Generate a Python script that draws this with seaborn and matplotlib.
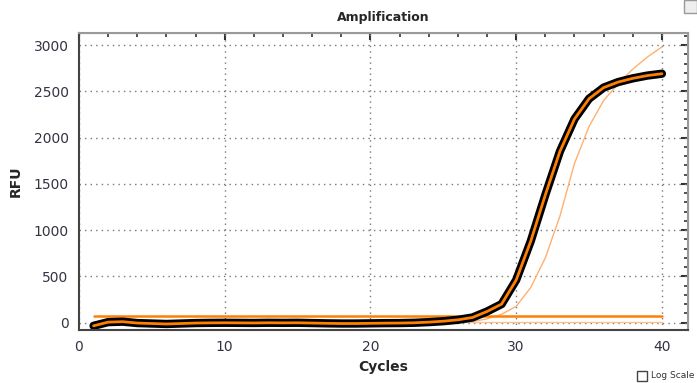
import numpy as np
import pandas as pd
import matplotlib.pyplot as plt
import seaborn as sns
from matplotlib.patches import Rectangle
from matplotlib.ticker import MultipleLocator

sns.set_style("white")

# Data
cycles = list(range(1, 41))
sample_a = [-35, 5, 10, -5, -10, -15, -10, -5, -3, -2,
            -3, -4, -2, -3, -2, -5, -8, -10, -10, -8,
            -6, -5, -2, 5, 15, 30, 55, 120, 200, 460,
            880, 1380, 1850, 2200, 2420, 2540, 2600, 2640, 2670, 2690]
sample_b = [0, 0, 0, 0, 0, 0, 0, 0, 0, 0,
            0, 0, 0, 0, 0, 0, 0, 0, 0, 0,
            0, 0, 0, 1, 2, 5, 12, 40, 90, 175,
            380, 700, 1150, 1720, 2120, 2400, 2580, 2740, 2870, 2980]
negative = [5] * 40
threshold = [75] * 40

df = pd.DataFrame({'cycle': cycles, 'a': sample_a, 'b': sample_b,
                   'neg': negative, 'thr': threshold})

fig = plt.figure(figsize=(6.97, 3.83), dpi=100)
ax = fig.add_axes([0.1133, 0.1384, 0.874, 0.7754])

sns.lineplot(data=df, x='cycle', y='neg', color='#ffc08a', linewidth=1, ax=ax)
sns.lineplot(data=df, x='cycle', y='b', color='#ffb070', linewidth=1, ax=ax)
sns.lineplot(data=df, x='cycle', y='thr', color='#ff8000', linewidth=1.8, ax=ax)
sns.lineplot(data=df, x='cycle', y='a', color='black', linewidth=6,
             solid_joinstyle='round', ax=ax)
sns.lineplot(data=df, x='cycle', y='a', color='#ff8000', linewidth=2,
             solid_joinstyle='round', ax=ax)

ax.set_xlim(0, 41.8)
ax.set_ylim(-80, 3130)
ax.xaxis.set_major_locator(MultipleLocator(10))
ax.xaxis.set_minor_locator(MultipleLocator(2))
ax.yaxis.set_major_locator(MultipleLocator(500))
ax.yaxis.set_minor_locator(MultipleLocator(100))

ax.grid(True, which='major', linestyle=(0, (1, 3)), color='#777777', linewidth=1)
ax.tick_params(which='major', direction='inout', length=8, width=1.5, color='#333333',
               labelsize=10, labelcolor='#333344')
ax.tick_params(which='minor', direction='inout', length=5, width=1.2, color='#333333')
for s in ax.spines.values():
    s.set_color('#444444')
    s.set_linewidth(1.5)
ax.spines['top'].set_color('#999999')
ax.spines['right'].set_color('#999999')

# inward ticks on the top and right edges
secx = ax.secondary_xaxis('top')
secx.xaxis.set_major_locator(MultipleLocator(10))
secx.xaxis.set_minor_locator(MultipleLocator(2))
secx.tick_params(which='both', direction='in', labeltop=False, color='#333333')
secx.tick_params(which='major', length=5, width=1.5)
secx.tick_params(which='minor', length=3, width=1.2)
secx.spines['top'].set_color('#999999')
secy = ax.secondary_yaxis('right')
secy.yaxis.set_major_locator(MultipleLocator(500))
secy.yaxis.set_minor_locator(MultipleLocator(100))
secy.tick_params(which='both', direction='in', labelright=False, color='#333333')
secy.tick_params(which='major', length=5, width=1.5)
secy.tick_params(which='minor', length=3, width=1.2)
secy.spines['right'].set_color('#999999')

ax.set_title('Amplification', fontsize=9, fontweight='bold', pad=9)
ax.set_xlabel('Cycles', fontsize=10, fontweight='bold')
ax.set_ylabel('RFU', fontsize=10, fontweight='bold', labelpad=8)

# Log Scale checkbox at the bottom right
fig.patches.append(Rectangle((637 / 697, 1 - 381 / 383), 10 / 697, 10 / 383,
                             transform=fig.transFigure, fill=False,
                             edgecolor='#444444', linewidth=1))
fig.text(651 / 697, 1 - 376 / 383, 'Log Scale', fontsize=6.5, color='#333333',
         va='center', ha='left')
# small toolbar icon top right
fig.patches.append(Rectangle((684 / 697, 1 - 13 / 383), 13 / 697, 13 / 383,
                             transform=fig.transFigure, facecolor='#eeeeee',
                             edgecolor='#999999', linewidth=1))

fig.savefig('out.png', dpi=100)
